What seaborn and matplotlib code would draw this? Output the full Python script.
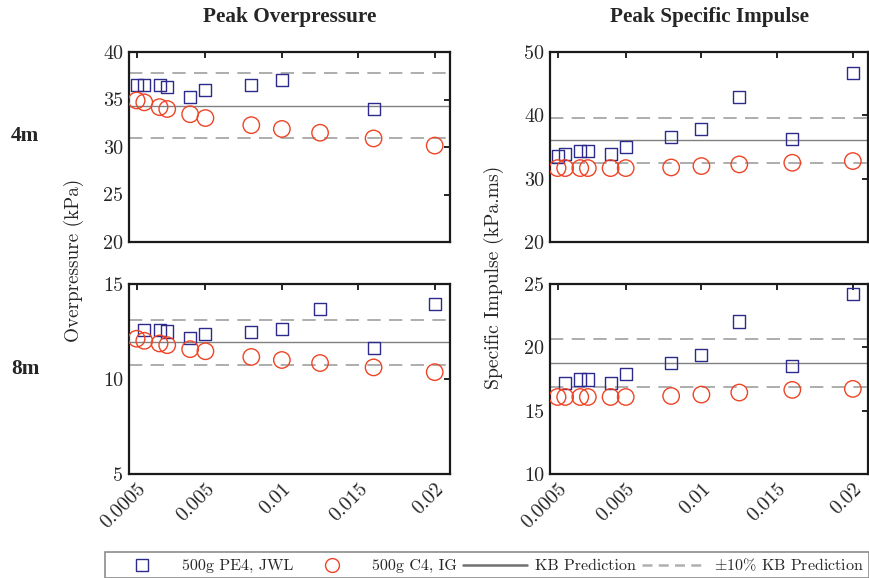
import numpy as np
import pandas as pd
import matplotlib
matplotlib.use("Agg")
import matplotlib.pyplot as plt
import seaborn as sns
from matplotlib.lines import Line2D

# ---- data ----
scaled_x = [0.0005, 0.001, 0.002, 0.0025, 0.004, 0.005, 0.008, 0.01, 0.0125, 0.016, 0.02]
nan = np.nan
op4_pe4 = [36.5, 36.5, 36.5, 36.3, 35.3, 36.0, 36.5, 37.1, nan, 34.0, nan]
op4_c4 = [34.9, 34.7, 34.2, 34.0, 33.45, 33.05, 32.3, 31.9, 31.5, 30.9, 30.15]
op8_pe4 = [nan, 12.6, 12.6, 12.5, 12.17, 12.38, 12.49, 12.62, 13.67, 11.64, 13.97]
op8_c4 = [12.12, 12.01, 11.87, 11.78, 11.57, 11.46, 11.16, 11.0, 10.84, 10.61, 10.36]
imp4_pe4 = [33.5, 33.84, 34.31, 34.31, 33.84, 35.05, 36.63, 37.9, 42.87, 36.21, 46.72]
imp4_c4 = [31.67, 31.67, 31.67, 31.67, 31.67, 31.67, 31.77, 31.99, 32.25, 32.51, 32.78]
imp8_pe4 = [nan, 17.2, 17.46, 17.46, 17.22, 17.88, 18.73, 19.42, 22.04, 18.49, 24.21]
imp8_c4 = [16.08, 16.08, 16.08, 16.08, 16.08, 16.08, 16.16, 16.27, 16.43, 16.64, 16.72]
kb_values = {"op4": 34.33, "op8": 11.93, "imp4": 36.05, "imp8": 18.78}

series_labels = ["500g PE4, JWL", "500g C4, IG"]
titles = ["Peak Overpressure", "Peak Specific Impulse"]
row_labels = ["4m", "8m"]
xticks = [0.0005, 0.005, 0.01, 0.015, 0.02]
xticklabels = ["0.0005", "0.005", "0.01", "0.015", "0.02"]

panels = {
    "op4": (op4_pe4, op4_c4, (20, 40), [20, 25, 30, 35, 40]),
    "imp4": (imp4_pe4, imp4_c4, (20, 50), [20, 30, 40, 50]),
    "op8": (op8_pe4, op8_c4, (5, 15), [5, 10, 15]),
    "imp8": (imp8_pe4, imp8_c4, (10, 25), [10, 15, 20, 25]),
}

sns.set_style("white")
serif = ["cmr10", "DejaVu Serif"]
plt.rcParams["font.family"] = serif
plt.rcParams["axes.formatter.use_mathtext"] = True
plt.rcParams["mathtext.fontset"] = "cm"

W, H = 869, 578
fig = plt.figure(figsize=(W / 100, H / 100), dpi=100)

def ax_at(l, t, r, b):
    return fig.add_axes([l / W, 1 - b / H, (r - l) / W, (b - t) / H])

boxes = {
    "op4": (129, 52, 450, 242),
    "imp4": (550, 52, 868, 242),
    "op8": (129, 284, 450, 474),
    "imp8": (550, 284, 868, 474),
}

blue = "#2d2a8c"
red = "#ee4425"
solid_c = "#808080"
dash_c = "#a0a0a0"

for key, (pe4, c4, ylim, yt) in panels.items():
    ax = ax_at(*boxes[key])
    df = pd.DataFrame({
        "x": scaled_x * 2,
        "y": list(pe4) + list(c4),
        "series": [series_labels[0]] * len(scaled_x) + [series_labels[1]] * len(scaled_x),
    }).dropna()
    kb = kb_values[key]
    ax.axhline(kb, color=solid_c, lw=1.0, zorder=1)
    ax.axhline(kb * 1.1, color=dash_c, lw=1.2, ls=(0, (8, 5)), zorder=1)
    ax.axhline(kb * 0.9, color=dash_c, lw=1.2, ls=(0, (8, 5)), zorder=1)
    sns.scatterplot(data=df[df.series == series_labels[0]], x="x", y="y", ax=ax,
                    marker="s", s=75, facecolor="none", edgecolor=blue,
                    linewidth=1.0, legend=False, zorder=3)
    sns.scatterplot(data=df[df.series == series_labels[1]], x="x", y="y", ax=ax,
                    marker="o", s=140, facecolor="none", edgecolor=red,
                    linewidth=1.0, legend=False, zorder=3)
    ax.set_xlim(0, 0.021)
    ax.set_ylim(*ylim)
    ax.set_yticks(yt)
    ax.set_yticklabels([str(v) for v in yt], fontsize=14.5)
    ax.set_xticks(xticks)
    if key in ("op8", "imp8"):
        ax.set_xticklabels(xticklabels, fontsize=14.5, rotation=45, ha="right",
                           rotation_mode="anchor")
    else:
        ax.set_xticklabels([])
    ax.set_xlabel("")
    ax.set_ylabel("")
    ax.tick_params(direction="in", top=True, right=True, length=4, width=1.2,
                   color="black", pad=4)
    for sp in ax.spines.values():
        sp.set_linewidth(1.6)
        sp.set_color("#1a1a1a")

# titles
fig.text(289.5 / W, 1 - 17 / H, titles[0], ha="center", va="center",
         fontsize=15.3, fontweight="bold", family="Liberation Serif")
fig.text(709 / W, 1 - 17 / H, titles[1], ha="center", va="center",
         fontsize=15.3, fontweight="bold", family="Liberation Serif")
# row labels
fig.text(25 / W, 1 - 136 / H, row_labels[0], ha="center", va="center",
         fontsize=15.3, fontweight="bold", family="Liberation Serif")
fig.text(25 / W, 1 - 369 / H, row_labels[1], ha="center", va="center",
         fontsize=15.3, fontweight="bold", family="Liberation Serif")
# y labels
fig.text(74 / W, 1 - 260 / H, "Overpressure (kPa)", ha="center", va="center",
         rotation=90, fontsize=13.8)
fig.text(494 / W, 1 - 277 / H, "Specific Impulse (kPa.ms)", ha="center", va="center",
         rotation=90, fontsize=14.2)

handles = [
    Line2D([], [], ls="none", marker="s", ms=8, mfc="none", mec=blue, mew=1.0),
    Line2D([], [], ls="none", marker="o", ms=10, mfc="none", mec=red, mew=1.0),
    Line2D([], [], color="#707070", lw=1.8),
    Line2D([], [], color="#b0b0b0", lw=1.8, ls=(0, (4, 2.5))),
]
labels = series_labels + ["KB Prediction", "$\\pm$10% KB Prediction"]
leg = fig.legend(handles, labels, ncol=4, loc="lower left",
                 bbox_to_anchor=(105 / W, 1 - 578 / H, (869 - 105) / W, 30 / H),
                 mode="expand", frameon=True, fancybox=False,
                 handlelength=4.0, handletextpad=0.5, borderaxespad=0,
                 borderpad=0.3, prop={"family": serif, "size": 11.5})
leg.get_frame().set_edgecolor("#707070")
leg.get_frame().set_linewidth(1.2)

fig.savefig("out.png", dpi=100)
